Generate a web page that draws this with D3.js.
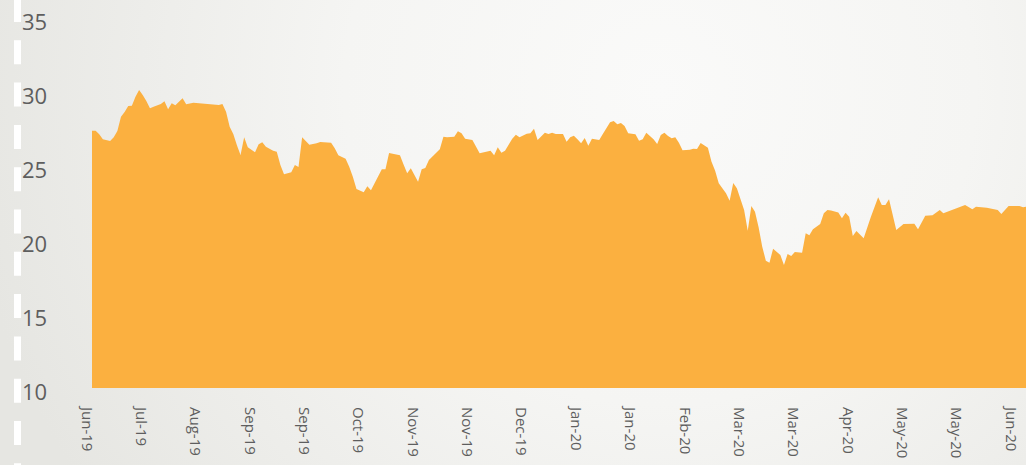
<!DOCTYPE html>
<html>
<head>
<meta charset="utf-8">
<script src="https://cdn.jsdelivr.net/npm/d3@7"></script>
<style>
    body { margin: 0; overflow: hidden; }
    svg { display: block; }
</style>
</head>
<body>
<svg></svg>
<script>
// trading-day index of each point
const days = [
    0, 1, 2, 3, 5, 6, 7, 8, 9, 10, 11, 12, 13, 14, 15, 16, 17, 19, 20, 21,
    22, 23, 24, 25, 26, 28, 35, 36, 37, 38, 39, 40, 41, 42, 43, 45, 46, 47, 48, 50,
    51, 52, 53, 55, 56, 57, 58, 60, 62, 63, 66, 67, 68, 70, 71, 72, 73, 75, 76, 77,
    78, 80, 81, 82, 85, 86, 87, 88, 90, 91, 92, 93, 96, 97, 98, 100, 101, 102, 103, 105,
    107, 110, 111, 112, 113, 114, 116, 117, 118, 120, 121, 122, 123, 125, 126, 127, 128, 130, 131, 132,
    133, 134, 135, 136, 137, 138, 140, 141, 143, 144, 145, 146, 147, 148, 150, 151, 152, 153, 155, 156,
    157, 158, 159, 160, 161, 162, 163, 165, 166, 167, 168, 170, 171, 172, 173, 175, 176, 177, 178, 180,
    181, 182, 183, 184, 185, 186, 187, 188, 190, 191, 192, 193, 194, 196, 197, 198, 199, 201, 202, 203,
    204, 206, 207, 208, 209, 210, 211, 213, 215, 217, 218, 219, 220, 222, 224, 227, 228, 230, 232, 234,
    235, 241, 243, 244, 247, 250, 251, 252, 253, 256, 257, 258
];
const values = [
    27.39, 27.39, 27.14, 26.80, 26.69, 26.94, 27.36, 28.33, 28.65, 29.05, 29.07, 29.68, 30.14, 29.80, 29.39, 28.90, 29.01, 29.19, 29.37, 28.83,
    29.24, 29.10, 29.34, 29.57, 29.17, 29.28, 29.12, 29.19, 28.67, 27.66, 27.16, 26.40, 25.74, 26.94, 26.26, 25.93, 26.47, 26.60, 26.30, 26.03,
    25.97, 25.07, 24.44, 24.57, 25.07, 24.93, 26.94, 26.44, 26.53, 26.62, 26.57, 26.20, 25.72, 25.49, 24.95, 24.28, 23.45, 23.22, 23.63, 23.36,
    23.83, 24.78, 24.78, 25.88, 25.72, 25.10, 24.51, 24.84, 23.94, 24.78, 24.86, 25.41, 26.13, 26.98, 26.94, 26.98, 27.34, 27.21, 26.84, 26.76,
    25.86, 26.03, 25.72, 26.26, 25.90, 26.03, 26.84, 27.11, 26.94, 27.18, 27.21, 27.52, 26.76, 27.25, 27.16, 27.25, 27.16, 27.16, 26.64, 26.94,
    27.05, 26.80, 26.53, 26.89, 26.37, 26.84, 26.76, 27.16, 27.95, 28.04, 27.82, 27.91, 27.70, 27.21, 27.14, 26.71, 26.80, 27.25, 26.80, 26.49,
    27.09, 27.25, 27.03, 26.87, 26.94, 26.57, 26.06, 26.10, 26.17, 26.15, 26.55, 26.24, 25.29, 24.68, 23.83, 23.16, 22.66, 23.85, 23.49, 22.03,
    20.63, 22.30, 21.91, 20.86, 19.55, 18.60, 18.47, 19.41, 18.99, 18.31, 19.05, 18.92, 19.19, 19.14, 20.45, 20.32, 20.72, 21.08, 21.80, 22.03,
    22.00, 21.85, 21.47, 21.84, 21.57, 20.27, 20.61, 20.11, 21.57, 22.89, 22.36, 22.36, 22.75, 20.68, 21.08, 21.10, 20.72, 21.64, 21.67, 22.03,
    21.80, 22.36, 22.07, 22.25, 22.18, 22.03, 21.76, 22.03, 22.30, 22.30, 22.21, 22.25
];
// category labels, one every 15 trading days
const tickDays = [0, 15, 30, 45, 60, 75, 90, 105, 120, 135, 150, 165, 180, 195, 210, 225, 240, 255];
const tickLabels = [
    "Jun-19", "Jul-19", "Aug-19", "Sep-19", "Sep-19", "Oct-19", "Nov-19", "Nov-19", "Dec-19",
    "Jan-20", "Jan-20", "Feb-20", "Mar-20", "Mar-20", "Apr-20", "May-20", "May-20", "Jun-20"
];
const yTicks = [10, 15, 20, 25, 30, 35];

const width = 1026,
    height = 465;

const svg = d3.select("svg").attr("width", width).attr("height", height);

const drawBackground = () => {
    const grad = svg.append("defs")
        .append("radialGradient")
        .attr("id", "bg")
        .attr("gradientUnits", "userSpaceOnUse")
        .attr("cx", 660)
        .attr("cy", 90)
        .attr("r", 700);
    grad.append("stop").attr("offset", "0%").attr("stop-color", "#fafaf9");
    grad.append("stop").attr("offset", "45%").attr("stop-color", "#f5f5f3");
    grad.append("stop").attr("offset", "100%").attr("stop-color", "#e6e6e2");

    svg.append("rect")
        .attr("width", width)
        .attr("height", height)
        .attr("fill", "url(#bg)");

    // white dashed rule on the left
    svg.append("line")
        .attr("x1", 17.5)
        .attr("x2", 17.5)
        .attr("y1", -2)
        .attr("y2", height)
        .attr("stroke", "#ffffff")
        .attr("stroke-width", 7)
        .attr("stroke-dasharray", "24 18.3");
};

const xScale = d3.scaleLinear().domain([0, 258]).range([92, 1026.7]);
const yScale = d3.scaleLinear().domain([10, 35]).range([388, 18]);

const drawArea = () => {
    const points = days.map((d, i) => [d, values[i]]);
    const area = d3.area()
        .x((d) => xScale(d[0]))
        .y0(yScale(10))
        .y1((d) => yScale(d[1]));

    svg.append("path")
        .datum(points)
        .attr("d", area)
        .attr("fill", "#fbb040");
};

const drawAxes = () => {
    const yAxis = svg.append("g").attr("id", "y-axis");
    yAxis.selectAll("text")
        .data(yTicks)
        .enter()
        .append("text")
        .attr("x", 22)
        .attr("y", (d) => yScale(d) + 4.5)
        .attr("dy", "0.35em")
        .attr("font-family", "'Open Sans', sans-serif")
        .attr("font-size", 22)
        .attr("fill", "#5e5e5e")
        .text((d) => d);

    const xAxis = svg.append("g").attr("id", "x-axis");
    xAxis.selectAll("text")
        .data(tickDays)
        .enter()
        .append("text")
        .attr("transform", (d) => "translate(" + (xScale(d) - 5) + ",407) rotate(90)")
        .attr("dy", "0.35em")
        .attr("font-family", "'Open Sans', sans-serif")
        .attr("font-size", 15)
        .attr("fill", "#5e5e5e")
        .text((d, i) => tickLabels[i]);
};

drawBackground();
drawArea();
drawAxes();
</script>
</body>
</html>
